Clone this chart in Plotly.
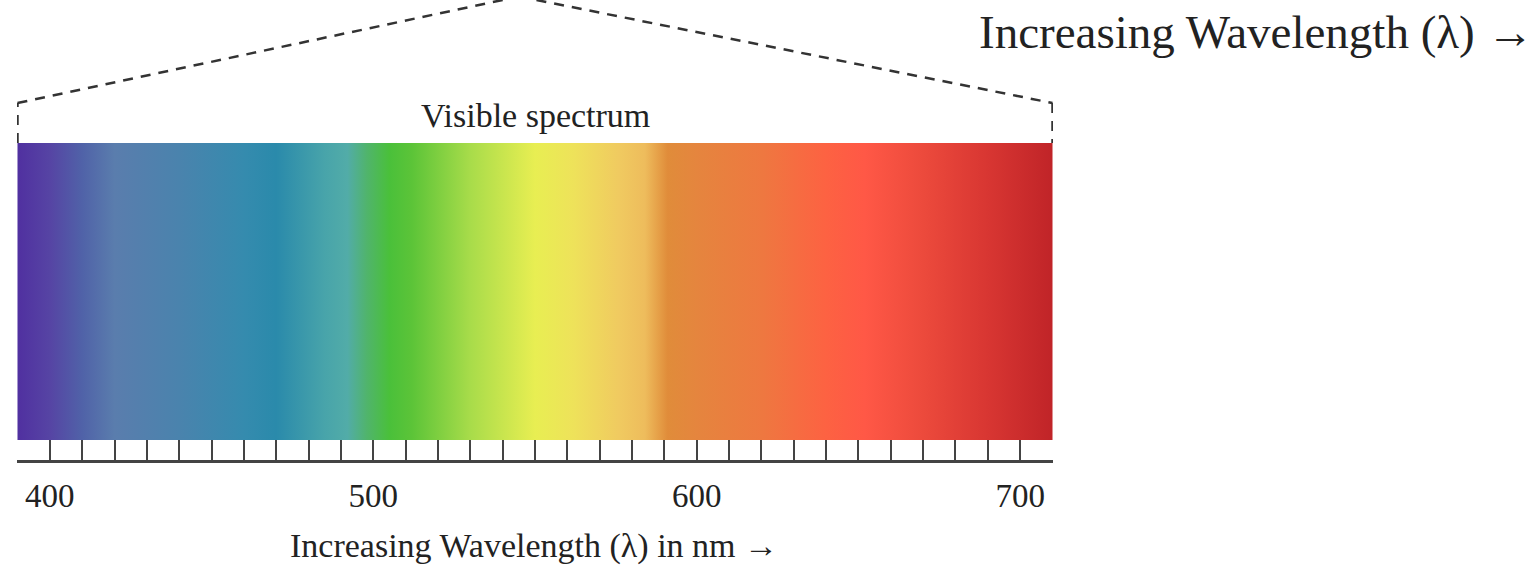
import plotly.graph_objects as go

# ---- data ----
spectrum_nm = [390, 400, 410, 420, 440, 460, 470, 485, 492, 498, 505, 512, 530, 550, 562, 576, 584, 591, 600, 620, 640, 652, 670, 690, 710]
spectrum_colors = ["#5030a0", "#5644a4", "#5062a8", "#5a7dad", "#4a83ad", "#358bae", "#2a8aab", "#48a4aa", "#52aca8",
                   "#50b46c", "#4ac03a", "#5cc438", "#a8dc4a", "#e8ee52", "#eee25a", "#f0ca60", "#eebc5c", "#e08c3a",
                   "#e5853e", "#ee7840", "#fd6242", "#ff5846", "#ec4a3c", "#d83632", "#c02428"]
range_nm = [390, 710]
major_ticks = [400, 500, 600, 700]
major_labels = ["400", "500", "600", "700"]
minor_step_nm = 10

label_visible = "Visible spectrum"
label_axis = "Increasing Wavelength (λ) in nm →"
label_top = "Increasing Wavelength (λ) →"

# ---- layout geometry (pixel-like y units, plot area is 460 px tall) ----
bar_bottom, bar_top = 20, 317
kink_y, apex_y, apex_x = 357, 463.5, 545

lo, hi = range_nm
span = hi - lo
colorscale = [[(w - lo) / span, c] for w, c in zip(spectrum_nm, spectrum_colors)]

fig = go.Figure()
fig.add_trace(go.Scatter(
    x=[lo, hi, hi, lo, lo], y=[bar_bottom, bar_bottom, bar_top, bar_top, bar_bottom],
    mode="lines", line=dict(width=0), fill="toself",
    fillgradient=dict(type="horizontal", colorscale=colorscale),
    hoverinfo="skip", showlegend=False,
))

dash_line = dict(color="#333333", width=2.5, dash="10px,8px")
shapes = [
    dict(type="line", xref="x", yref="y", x0=lo, y0=bar_top, x1=lo, y1=kink_y, line=dash_line),
    dict(type="line", xref="x", yref="y", x0=lo, y0=kink_y, x1=apex_x, y1=apex_y, line=dash_line),
    dict(type="line", xref="x", yref="y", x0=apex_x, y0=apex_y, x1=hi, y1=kink_y, line=dash_line),
    dict(type="line", xref="x", yref="y", x0=hi, y0=kink_y, x1=hi, y1=bar_top, line=dash_line),
]

serif = "Liberation Serif"
text_color = "#222222"
annotations = [
    dict(text=label_visible, x=(lo + hi) / 2, y=345, xref="x", yref="y", yanchor="middle",
         showarrow=False, font=dict(family=serif, size=34, color=text_color)),
    dict(text=label_axis, x=(lo + hi) / 2 - 0.3, y=-0.186, xref="x", yref="paper", yanchor="middle",
         showarrow=False, font=dict(family=serif, size=34, color=text_color)),
    dict(text=label_top, x=(1536 - 17) / (1534 - 17 - 481), y=(460 - 32) / 460,
         xref="paper", yref="paper", xanchor="right", yanchor="middle", showarrow=False,
         font=dict(family=serif, size=47, color=text_color)),
]

fig.update_layout(
    width=1534, height=570,
    margin=dict(l=17, r=481, t=0, b=110, autoexpand=False),
    paper_bgcolor="white", plot_bgcolor="white",
    shapes=shapes, annotations=annotations,
    xaxis=dict(range=[lo - 0.15, hi + 0.15], showgrid=False, zeroline=False,
               showline=True, linecolor="#444444", linewidth=3,
               ticks="inside", ticklen=20, tickwidth=2, tickcolor="#444444",
               tickvals=major_ticks, ticktext=major_labels, ticklabelstandoff=4,
               tickfont=dict(family=serif, size=33, color=text_color),
               minor=dict(tick0=lo, dtick=minor_step_nm, ticks="inside", ticklen=20,
                          tickwidth=2, tickcolor="#444444", showgrid=False),
               fixedrange=True),
    yaxis=dict(range=[0, 460], visible=False, fixedrange=True),
)

fig.write_html("out.html", config={"displayModeBar": False},
               post_script="document.body.style.margin='0';document.body.style.overflow='hidden';")
